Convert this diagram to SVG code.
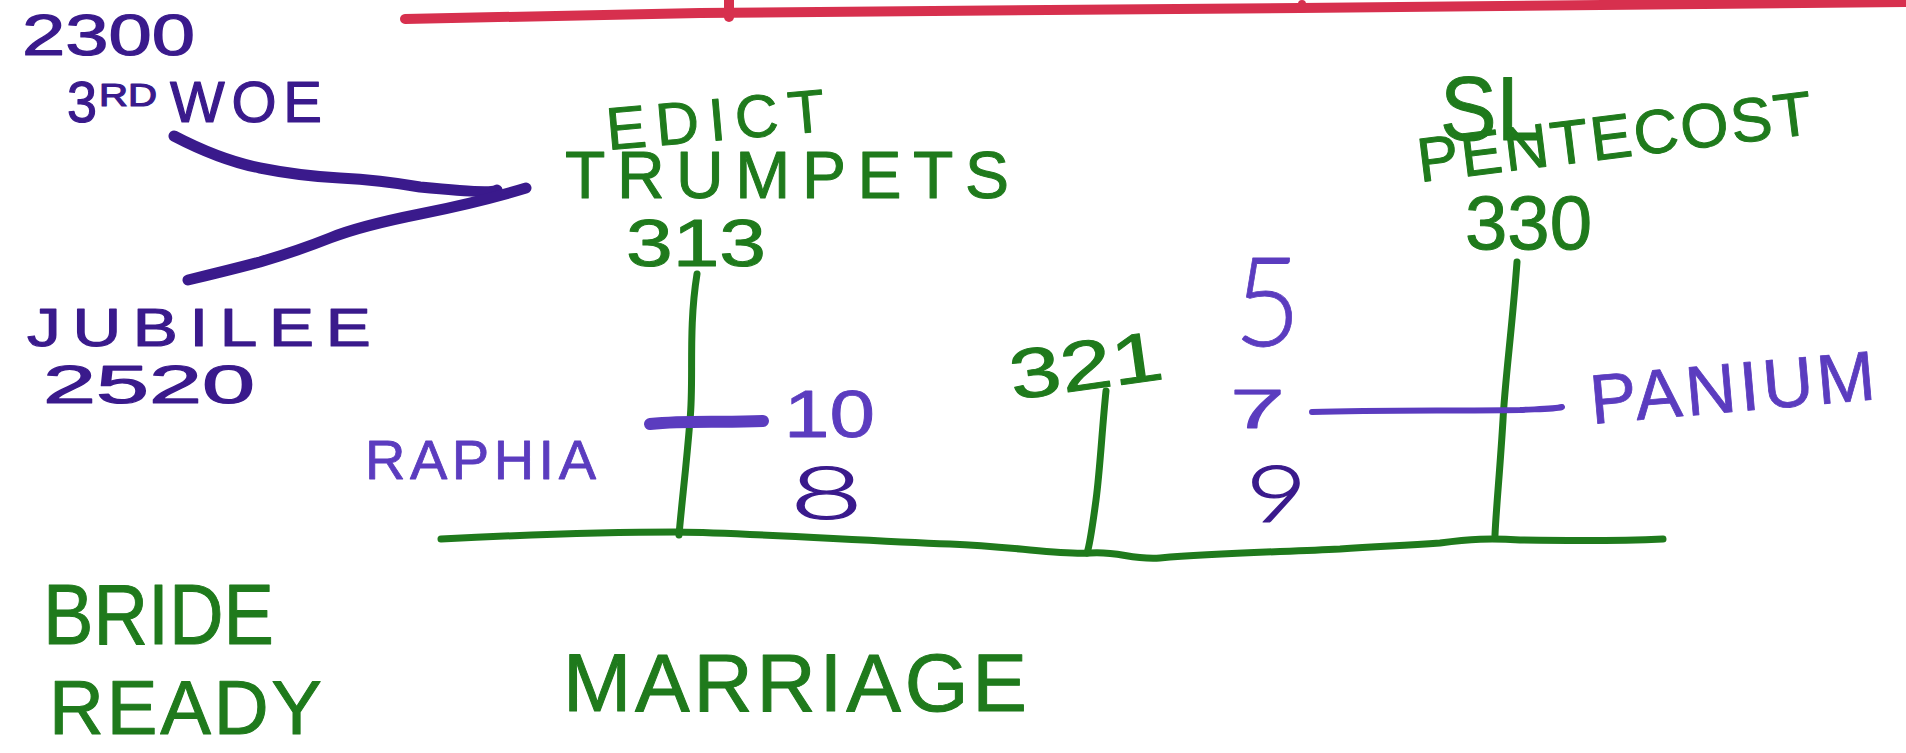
<svg xmlns="http://www.w3.org/2000/svg" width="1906" height="753" viewBox="0 0 1906 753">
<style>
.t{font-family:"Liberation Sans",Arial,sans-serif;stroke-linejoin:round}
.th{font-family:Lato,"Liberation Sans",sans-serif;font-weight:300}
.dp{fill:#3a1a8c;stroke:#3a1a8c;stroke-width:1.2}
.lp{fill:#5b3cbf;stroke:#5b3cbf;stroke-width:0.8}
.gr{fill:#1f7a1c;stroke:#1f7a1c;stroke-width:1}
.ln{fill:none;stroke-linecap:round;stroke-linejoin:round}
.g{stroke:#1f7a1c;stroke-width:7}
.p{stroke:#3a1a8c;stroke-width:11}
.l{stroke:#5b3cbf}
</style>
<rect width="1906" height="753" fill="#ffffff"/>
<g id="connectors">
<path class="ln" d="M405,19 L700,13 L1300,8 L1906,2" stroke="#d7304e" stroke-width="10"/>
<path class="ln" d="M729,0 L729,17" stroke="#d7304e" stroke-width="10"/>
<circle cx="1302" cy="4" r="4" fill="#d7304e"/>
<path class="ln p" d="M174,136 Q220,160 260,168 T340,178 T420,187 Q490,194 497,190"/>
<path class="ln p" d="M188,280 Q230,270 260,262 Q300,250 330,238 T420,214 T526,188"/>
<path class="ln g" d="M441,539 C500,536 600,532 677,532 C750,533 850,540 950,544 C1020,547 1060,555 1090,553 C1120,551 1130,560 1160,558 C1220,553 1280,552 1340,549 C1380,546 1400,546 1440,543 C1470,539 1490,538 1520,540 C1580,541 1620,541 1663,539"/>
<path class="ln g" d="M697,274 C688,330 694,380 690,420 C686,470 682,500 679,535"/>
<path class="ln g" d="M1106,391 C1102,430 1100,470 1096,500 C1092,530 1090,545 1087,553"/>
<path class="ln g" d="M1517,262 C1512,330 1505,380 1503,420 C1500,470 1496,510 1495,535"/>
<path class="ln l" stroke-width="12" d="M650,424 C690,420 720,423 763,421"/>
<path class="ln l" stroke-width="6" d="M1312,412 C1380,410 1450,411 1520,410 C1540,409 1555,409 1562,407"/>
</g>
<g id="n2300"><text class="t dp" x="22" y="55" font-size="58" textLength="173" lengthAdjust="spacingAndGlyphs">2300</text></g>
<g id="n3rdwoe"><text class="t dp" y="122" font-size="58"><tspan x="67" textLength="30" lengthAdjust="spacingAndGlyphs">3</tspan><tspan x="99" y="106" font-size="32" textLength="58" lengthAdjust="spacingAndGlyphs">RD</tspan><tspan x="170" y="122" textLength="152" lengthAdjust="spacing">WOE</tspan></text></g>
<g id="jubilee"><text class="t dp" x="0" y="0" font-size="54" textLength="275" lengthAdjust="spacing" transform="translate(27 346) scale(1.25 1)">JUBILEE</text></g>
<g id="n2520"><text class="t dp" x="43" y="403" font-size="54" textLength="212" lengthAdjust="spacingAndGlyphs">2520</text></g>
<g id="edict"><text class="t gr" x="608" y="150" font-size="60" textLength="219" lengthAdjust="spacing" transform="rotate(-5 608 150)">EDICT</text></g>
<g id="trumpets"><text class="t gr" x="565" y="198" font-size="66" textLength="444" lengthAdjust="spacing">TRUMPETS</text></g>
<g id="n313"><text class="t gr" x="626" y="266" font-size="66" textLength="140" lengthAdjust="spacingAndGlyphs">313</text></g>
<g id="n10"><text class="t lp" x="784" y="437" font-size="66" textLength="91" lengthAdjust="spacingAndGlyphs">10</text></g>
<g id="raphia"><text class="t lp" x="365" y="479" font-size="56" textLength="231" lengthAdjust="spacing">RAPHIA</text></g>
<g id="n8"><text class="t th dp" x="790" y="519" font-size="72" textLength="73" lengthAdjust="spacingAndGlyphs">8</text></g>
<g id="n321"><text class="t gr" x="1013" y="400" font-size="70" textLength="154" lengthAdjust="spacingAndGlyphs" transform="rotate(-8 1013 400)">321</text></g>
<g id="n5"><text class="t th lp" x="1234" y="346" font-size="125" textLength="67" lengthAdjust="spacingAndGlyphs">5</text></g>
<g id="n7"><text class="t lp" x="1230" y="428" font-size="56" textLength="55" lengthAdjust="spacingAndGlyphs">7</text></g>
<g id="n9"><text class="t th dp" x="1246" y="522" font-size="78" textLength="61" lengthAdjust="spacingAndGlyphs">9</text></g>
<g id="panium"><text class="t lp" x="1592" y="424" font-size="70" textLength="286" lengthAdjust="spacing" transform="rotate(-5 1592 424)">PANIUM</text></g>
<g id="sl"><text class="t gr" x="1440" y="140" font-size="90" textLength="104" lengthAdjust="spacingAndGlyphs">SL</text></g>
<g id="pentecost"><text class="t gr" x="1420" y="182" font-size="62" textLength="397" lengthAdjust="spacing" transform="rotate(-7 1420 182)">PENTECOST</text></g>
<g id="n330"><text class="t gr" x="1465" y="249" font-size="76" textLength="127" lengthAdjust="spacingAndGlyphs">330</text></g>
<g id="bride"><text class="t gr" x="43" y="644" font-size="86" textLength="231" lengthAdjust="spacingAndGlyphs">BRIDE</text></g>
<g id="ready"><text class="t gr" x="49" y="734" font-size="76" textLength="273" lengthAdjust="spacing">READY</text></g>
<g id="marriage"><text class="t gr" x="563" y="711" font-size="82" textLength="464" lengthAdjust="spacing">MARRIAGE</text></g>
</svg>
